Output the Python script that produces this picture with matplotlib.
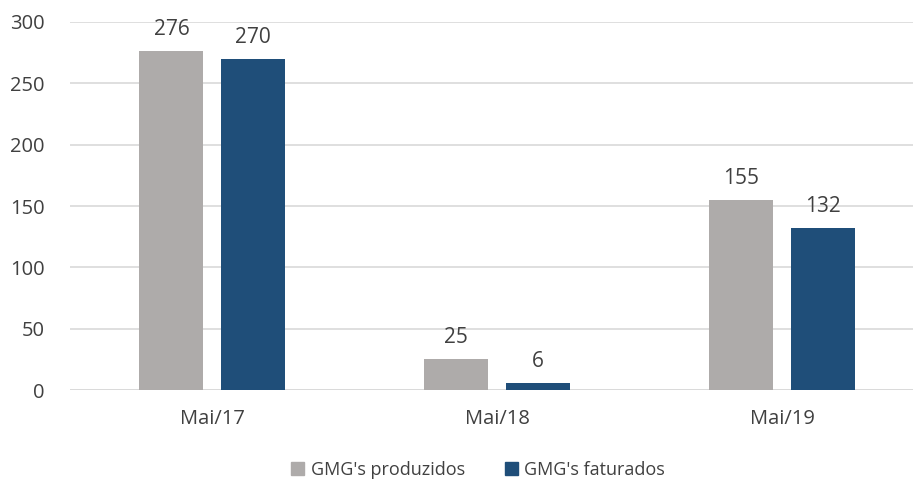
import matplotlib
matplotlib.use("Agg")
import matplotlib.pyplot as plt
import numpy as np
from matplotlib.patches import Patch

categories = ["Mai/17", "Mai/18", "Mai/19"]
produzidos = [276, 25, 155]
faturados = [270, 6, 132]
series_names = ["GMG's produzidos", "GMG's faturados"]
yticks = [0, 50, 100, 150, 200, 250, 300]

c_gray = "#AEABAA"
c_blue = "#1F4E79"
txt = "#404040"

plt.rcParams['font.family'] = ['Open Sans', 'DejaVu Sans']

fig = plt.figure(figsize=(9.13, 4.8), dpi=100)
W, H = 913, 480
left_px, right_px = 69.5, 924.5
top_px, bot_px = 22, 390
ax = fig.add_axes([left_px / W, 1 - bot_px / H, (right_px - left_px) / W, (bot_px - top_px) / H])

x = np.arange(len(categories))
bw = 0.225
off = 0.1425
b1 = ax.bar(x - off, produzidos, bw, color=c_gray, zorder=3)
b2 = ax.bar(x + off, faturados, bw, color=c_blue, zorder=3)

for bars, vals in ((b1, produzidos), (b2, faturados)):
    for rect, v in zip(bars, vals):
        ax.annotate(str(v), (rect.get_x() + rect.get_width() / 2, v),
                    xytext=(0, 8), textcoords="offset points",
                    ha="center", va="bottom", fontsize=15, color=txt)

ax.set_xlim(-0.5, 2.5)
ax.set_ylim(0, 300)
ax.set_yticks(yticks)
ax.set_yticklabels([str(t) for t in yticks], fontsize=14.5, color=txt)
ax.set_xticks(x)
ax.set_xticklabels(categories, fontsize=14.5, color=txt)
ax.tick_params(axis="both", length=0)
ax.tick_params(axis="y", pad=18)
ax.tick_params(axis="x", pad=14)
ax.grid(axis="y", color="#D9D9D9", linewidth=1.2, zorder=0)
for s in ax.spines.values():
    s.set_visible(False)
ax.axhline(0, color="#D9D9D9", linewidth=1.2, zorder=2)

handles = [Patch(color=c_gray), Patch(color=c_blue)]
fig.legend(handles, series_names, loc="center", bbox_to_anchor=(478 / W, 1 - 470 / H),
           ncol=2, frameon=False, fontsize=13, handlelength=0.75, handleheight=0.75,
           handletextpad=0.35, columnspacing=2.2, labelcolor=txt)

fig.savefig("out.png", dpi=100)
